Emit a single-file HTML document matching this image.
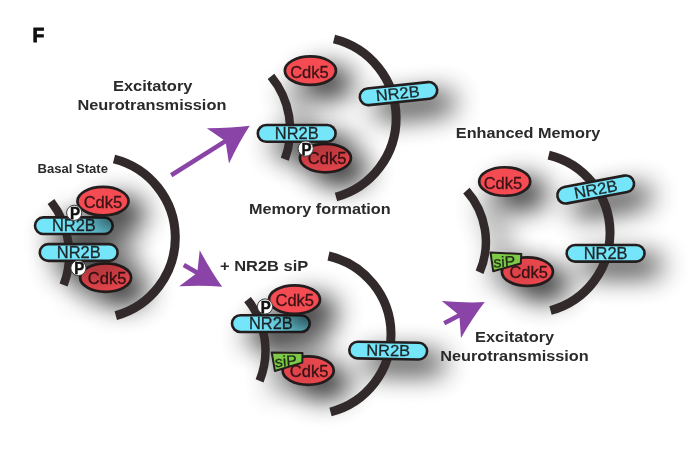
<!DOCTYPE html>
<html><head><meta charset="utf-8"><style>
html,body{margin:0;padding:0;background:#fff;}
body{width:700px;height:454px;overflow:hidden;}
svg{display:block;will-change:transform;}
text{font-family:"Liberation Sans",sans-serif;}
</style></head><body>
<svg width="700" height="454" viewBox="0 0 700 454" font-family="Liberation Sans, sans-serif">
<defs>
<filter id="so" filterUnits="userSpaceOnUse" x="-50" y="-50" width="800" height="560"><feGaussianBlur in="SourceAlpha" stdDeviation="14"/><feOffset dx="16" dy="12" result="b"/><feFlood flood-color="#000"/><feComposite in2="b" operator="in"/></filter>
<clipPath id="c_e_cdk_lo"><ellipse cx="527.4" cy="271.7" rx="25.55" ry="14.25" stroke-width="2.7" /></clipPath>
<clipPath id="c_m_cdk_lo"><ellipse cx="325.4" cy="158.1" rx="25.55" ry="14.25" stroke-width="2.7" /></clipPath>
<clipPath id="c_s_cdk_lo"><ellipse cx="308.2" cy="370.6" rx="25.55" ry="14.25" stroke-width="2.7" /></clipPath>
<clipPath id="c_s_nr_l"><rect transform="translate(270.9,323.6) rotate(0)" x="-38.90" y="-8.35" width="77.80" height="16.70" rx="8.35" stroke-width="2.6" /></clipPath>
<clipPath id="c_b_cdk_lo"><ellipse cx="105.6" cy="277.6" rx="25.55" ry="14.25" stroke-width="2.7" /></clipPath>
<clipPath id="c_b_nr_up"><rect transform="translate(73.9,225.7) rotate(0)" x="-38.90" y="-8.35" width="77.80" height="16.70" rx="8.35" stroke-width="2.6" /></clipPath>
</defs>
<rect width="700" height="454" fill="#fff"/>
<g filter="url(#so)" opacity="0.8"><path d="M51.00,201.50 A86.13,86.13 0 0 1 63.60,285.00" fill="none" stroke="#000" stroke-width="8.5"/></g>
<g filter="url(#so)" opacity="0.8"><path d="M271.00,76.40 A83.83,83.83 0 0 1 284.80,159.30" fill="none" stroke="#000" stroke-width="8.5"/></g>
<g filter="url(#so)" opacity="0.8"><path d="M247.50,299.60 A81.15,81.15 0 0 1 259.60,380.90" fill="none" stroke="#000" stroke-width="8.5"/></g>
<g filter="url(#so)" opacity="0.8"><path d="M466.40,190.60 A76.87,76.87 0 0 1 479.60,272.30" fill="none" stroke="#000" stroke-width="8.5"/></g>
<g filter="url(#so)" opacity="0.9"><ellipse cx="105.6" cy="277.6" rx="25.55" ry="14.25" stroke-width="2.7" fill="#000" stroke="#000"/></g>
<g filter="url(#so)" opacity="0.9"><rect transform="translate(73.9,225.7) rotate(0)" x="-38.90" y="-8.35" width="77.80" height="16.70" rx="8.35" stroke-width="2.6" fill="#000" stroke="#000"/></g>
<g filter="url(#so)" opacity="0.9"><ellipse cx="103.0" cy="201.2" rx="25.55" ry="14.25" stroke-width="2.7" fill="#000" stroke="#000"/></g>
<g filter="url(#so)" opacity="0.9"><rect transform="translate(78.7,252.5) rotate(0)" x="-38.90" y="-8.35" width="77.80" height="16.70" rx="8.35" stroke-width="2.6" fill="#000" stroke="#000"/></g>
<g filter="url(#so)" opacity="0.9"><circle cx="74.2" cy="212.8" r="7.60" stroke-width="1.0" fill="#000" stroke="#000"/></g>
<g filter="url(#so)" opacity="0.9"><circle cx="78.4" cy="268" r="7.60" stroke-width="1.0" fill="#000" stroke="#000"/></g>
<g filter="url(#so)" opacity="0.9"><ellipse cx="310.4" cy="70.7" rx="25.55" ry="14.25" stroke-width="2.7" fill="#000" stroke="#000"/></g>
<g filter="url(#so)" opacity="0.9"><ellipse cx="325.4" cy="158.1" rx="25.55" ry="14.25" stroke-width="2.7" fill="#000" stroke="#000"/></g>
<g filter="url(#so)" opacity="0.9"><rect transform="translate(296.7,133.4) rotate(0)" x="-38.90" y="-8.35" width="77.80" height="16.70" rx="8.35" stroke-width="2.6" fill="#000" stroke="#000"/></g>
<g filter="url(#so)" opacity="0.9"><rect transform="translate(398.5,93.6) rotate(-6)" x="-38.90" y="-8.35" width="77.80" height="16.70" rx="8.35" stroke-width="2.6" fill="#000" stroke="#000"/></g>
<g filter="url(#so)" opacity="0.9"><circle cx="305.7" cy="148.6" r="7.60" stroke-width="1.0" fill="#000" stroke="#000"/></g>
<g filter="url(#so)" opacity="0.9"><rect transform="translate(270.9,323.6) rotate(0)" x="-38.90" y="-8.35" width="77.80" height="16.70" rx="8.35" stroke-width="2.6" fill="#000" stroke="#000"/></g>
<g filter="url(#so)" opacity="0.9"><ellipse cx="294.5" cy="299.6" rx="25.55" ry="14.25" stroke-width="2.7" fill="#000" stroke="#000"/></g>
<g filter="url(#so)" opacity="0.9"><circle cx="265" cy="306.5" r="7.60" stroke-width="1.0" fill="#000" stroke="#000"/></g>
<g filter="url(#so)" opacity="0.9"><ellipse cx="308.2" cy="370.6" rx="25.55" ry="14.25" stroke-width="2.7" fill="#000" stroke="#000"/></g>
<g filter="url(#so)" opacity="0.9"><path transform="translate(271.7,352.4) rotate(0)" d="M0.0,0.0 L30.8,0.6 L30.6,10.2 L3.2,18.6 Z" stroke-width="2" stroke-linejoin="round" fill="#000" stroke="#000"/></g>
<g filter="url(#so)" opacity="0.9"><rect transform="translate(388.2,350.6) rotate(1)" x="-38.90" y="-8.35" width="77.80" height="16.70" rx="8.35" stroke-width="2.6" fill="#000" stroke="#000"/></g>
<g filter="url(#so)" opacity="0.9"><ellipse cx="504.7" cy="181.5" rx="25.55" ry="14.25" stroke-width="2.7" fill="#000" stroke="#000"/></g>
<g filter="url(#so)" opacity="0.9"><ellipse cx="527.4" cy="271.7" rx="25.55" ry="14.25" stroke-width="2.7" fill="#000" stroke="#000"/></g>
<g filter="url(#so)" opacity="0.9"><path transform="translate(490.5,252.5) rotate(1.5)" d="M0.0,0.0 L30.8,0.6 L30.6,10.2 L3.2,18.6 Z" stroke-width="2" stroke-linejoin="round" fill="#000" stroke="#000"/></g>
<g filter="url(#so)" opacity="0.9"><rect transform="translate(595.7,189.5) rotate(-10.7)" x="-38.90" y="-8.35" width="77.80" height="16.70" rx="8.35" stroke-width="2.6" fill="#000" stroke="#000"/></g>
<g filter="url(#so)" opacity="0.9"><rect transform="translate(605.6,253.3) rotate(0)" x="-38.90" y="-8.35" width="77.80" height="16.70" rx="8.35" stroke-width="2.6" fill="#000" stroke="#000"/></g>
<text x="32.4" y="41.9" font-size="21" font-weight="bold" fill="#111" stroke="#111" stroke-width="0.9" textLength="11.8" lengthAdjust="spacingAndGlyphs">F</text>
<text x="152.7" y="91" font-size="15.2" font-weight="bold" text-anchor="middle" fill="#2a2a2a" textLength="79.5" lengthAdjust="spacingAndGlyphs">Excitatory</text>
<text x="151.9" y="109.8" font-size="15.2" font-weight="bold" text-anchor="middle" fill="#2a2a2a" textLength="149" lengthAdjust="spacingAndGlyphs">Neurotransmission</text>
<text x="37.5" y="172.6" font-size="12" font-weight="bold" text-anchor="start" fill="#2a2a2a" textLength="70.5" lengthAdjust="spacingAndGlyphs">Basal State</text>
<text x="249" y="214.4" font-size="15.2" font-weight="bold" text-anchor="start" fill="#2a2a2a" textLength="141.7" lengthAdjust="spacingAndGlyphs">Memory formation</text>
<text x="220" y="271.4" font-size="15.2" font-weight="bold" text-anchor="start" fill="#2a2a2a" textLength="88.2" lengthAdjust="spacingAndGlyphs">+ NR2B siP</text>
<text x="455.8" y="137.6" font-size="15.2" font-weight="bold" text-anchor="start" fill="#2a2a2a" textLength="144.6" lengthAdjust="spacingAndGlyphs">Enhanced Memory</text>
<text x="514.6" y="342.1" font-size="15.2" font-weight="bold" text-anchor="middle" fill="#2a2a2a" textLength="79" lengthAdjust="spacingAndGlyphs">Excitatory</text>
<text x="514.5" y="360.9" font-size="15.2" font-weight="bold" text-anchor="middle" fill="#2a2a2a" textLength="148.6" lengthAdjust="spacingAndGlyphs">Neurotransmission</text>
<path transform="translate(171.2,175.3) rotate(-32.2)" d="M0,-2.3 L63.2,-2.3 L55.2,-20.8 Q75.9,-7.7 92.8,0 Q75.9,7.7 55.2,20.8 L63.2,2.3 L0,2.3 Z" fill="#8a44a8"/>
<path transform="translate(183.8,265) rotate(29.6)" d="M0,-2.3 L14.5,-2.3 L6.5,-20.8 Q27.2,-7.7 44.1,0 Q27.2,7.7 6.5,20.8 L14.5,2.3 L0,2.3 Z" fill="#8a44a8"/>
<path transform="translate(444.2,323.2) rotate(-27.5)" d="M0,-2.3 L16.1,-2.3 L8.1,-20.8 Q28.8,-7.7 45.7,0 Q28.8,7.7 8.1,20.8 L16.1,2.3 L0,2.3 Z" fill="#8a44a8"/>
<path d="M114.00,159.00 A80.96,80.96 0 0 1 115.80,315.60" fill="none" stroke="#322a2a" stroke-width="9"/>
<path d="M51.00,201.50 A86.13,86.13 0 0 1 63.60,285.00" fill="none" stroke="#322a2a" stroke-width="8.5"/>
<path d="M334.00,39.00 A81.62,81.62 0 0 1 336.00,197.00" fill="none" stroke="#322a2a" stroke-width="9"/>
<path d="M271.00,76.40 A83.83,83.83 0 0 1 284.80,159.30" fill="none" stroke="#322a2a" stroke-width="8.5"/>
<path d="M328.50,256.00 A80.22,80.22 0 0 1 330.50,412.00" fill="none" stroke="#322a2a" stroke-width="9"/>
<path d="M247.50,299.60 A81.15,81.15 0 0 1 259.60,380.90" fill="none" stroke="#322a2a" stroke-width="8.5"/>
<path d="M548.70,155.20 A80.11,80.11 0 0 1 550.50,310.50" fill="none" stroke="#322a2a" stroke-width="9"/>
<path d="M466.40,190.60 A76.87,76.87 0 0 1 479.60,272.30" fill="none" stroke="#322a2a" stroke-width="8.5"/>
<ellipse cx="105.6" cy="277.6" rx="25.55" ry="14.25" stroke-width="2.7" fill="#f54b52" stroke="#241d1e"/><text x="107.10" y="283.70" font-size="15.8" text-anchor="middle" fill="#3b1416" stroke="#3b1416" stroke-width="0.3" textLength="38.5" lengthAdjust="spacingAndGlyphs">Cdk5</text>
<g clip-path="url(#c_b_cdk_lo)"><g filter="url(#so)" opacity="0.45"><rect transform="translate(78.7,252.5) rotate(0)" x="-38.90" y="-8.35" width="77.80" height="16.70" rx="8.35" stroke-width="2.6" fill="#000" stroke="#000"/></g></g>
<g clip-path="url(#c_b_cdk_lo)"><g filter="url(#so)" opacity="0.3"><circle cx="78.4" cy="268" r="7.60" stroke-width="1.0" fill="#000" stroke="#000"/></g></g>
<rect transform="translate(73.9,225.7) rotate(0)" x="-38.90" y="-8.35" width="77.80" height="16.70" rx="8.35" stroke-width="2.6" fill="#75e6fa" stroke="#241d1e"/><text transform="translate(73.9,225.7) rotate(0)" x="0" y="5.3" font-size="16" text-anchor="middle" fill="#1e2628" stroke="#1e2628" stroke-width="0.3" textLength="43.8" lengthAdjust="spacingAndGlyphs">NR2B</text>
<g clip-path="url(#c_b_nr_up)"><g filter="url(#so)" opacity="0.95"><ellipse cx="103.0" cy="201.2" rx="25.55" ry="14.25" stroke-width="2.7" fill="#000" stroke="#000"/></g></g>
<g clip-path="url(#c_b_nr_up)"><g filter="url(#so)" opacity="0.4"><circle cx="74.2" cy="212.8" r="7.60" stroke-width="1.0" fill="#000" stroke="#000"/></g></g>
<ellipse cx="103.0" cy="201.2" rx="25.55" ry="14.25" stroke-width="2.7" fill="#f54b52" stroke="#241d1e"/><text x="102.90" y="207.80" font-size="15.8" text-anchor="middle" fill="#3b1416" stroke="#3b1416" stroke-width="0.3" textLength="38.5" lengthAdjust="spacingAndGlyphs">Cdk5</text>
<rect transform="translate(78.7,252.5) rotate(0)" x="-38.90" y="-8.35" width="77.80" height="16.70" rx="8.35" stroke-width="2.6" fill="#75e6fa" stroke="#241d1e"/><text transform="translate(78.7,252.5) rotate(0)" x="0" y="5.3" font-size="16" text-anchor="middle" fill="#1e2628" stroke="#1e2628" stroke-width="0.3" textLength="43.8" lengthAdjust="spacingAndGlyphs">NR2B</text>
<circle cx="74.2" cy="212.8" r="7.60" stroke-width="1.0" fill="#fff" stroke="#3a3a3a"/><text x="75.00" y="218.90" font-size="16" font-weight="bold" text-anchor="middle" fill="#111" stroke="#111" stroke-width="0.5" textLength="10" lengthAdjust="spacingAndGlyphs">P</text>
<circle cx="78.4" cy="268" r="7.60" stroke-width="1.0" fill="#fff" stroke="#3a3a3a"/><text x="79.20" y="274.10" font-size="16" font-weight="bold" text-anchor="middle" fill="#111" stroke="#111" stroke-width="0.5" textLength="10" lengthAdjust="spacingAndGlyphs">P</text>
<ellipse cx="310.4" cy="70.7" rx="25.55" ry="14.25" stroke-width="2.7" fill="#f54b52" stroke="#241d1e"/><text x="309.40" y="77.70" font-size="15.8" text-anchor="middle" fill="#3b1416" stroke="#3b1416" stroke-width="0.3" textLength="38.5" lengthAdjust="spacingAndGlyphs">Cdk5</text>
<ellipse cx="325.4" cy="158.1" rx="25.55" ry="14.25" stroke-width="2.7" fill="#f54b52" stroke="#241d1e"/><text x="327.10" y="163.70" font-size="15.8" text-anchor="middle" fill="#3b1416" stroke="#3b1416" stroke-width="0.3" textLength="38.5" lengthAdjust="spacingAndGlyphs">Cdk5</text>
<g clip-path="url(#c_m_cdk_lo)"><g filter="url(#so)" opacity="0.45"><rect transform="translate(296.7,133.4) rotate(0)" x="-38.90" y="-8.35" width="77.80" height="16.70" rx="8.35" stroke-width="2.6" fill="#000" stroke="#000"/></g></g>
<g clip-path="url(#c_m_cdk_lo)"><g filter="url(#so)" opacity="0.3"><circle cx="305.7" cy="148.6" r="7.60" stroke-width="1.0" fill="#000" stroke="#000"/></g></g>
<rect transform="translate(296.7,133.4) rotate(0)" x="-38.90" y="-8.35" width="77.80" height="16.70" rx="8.35" stroke-width="2.6" fill="#75e6fa" stroke="#241d1e"/><text transform="translate(296.7,133.4) rotate(0)" x="0" y="5.3" font-size="16" text-anchor="middle" fill="#1e2628" stroke="#1e2628" stroke-width="0.3" textLength="43.8" lengthAdjust="spacingAndGlyphs">NR2B</text>
<rect transform="translate(398.5,93.6) rotate(-6)" x="-38.90" y="-8.35" width="77.80" height="16.70" rx="8.35" stroke-width="2.6" fill="#75e6fa" stroke="#241d1e"/><text transform="translate(398.5,93.6) rotate(-6)" x="-0.8" y="5.3" font-size="16" text-anchor="middle" fill="#1e2628" stroke="#1e2628" stroke-width="0.3" textLength="43.8" lengthAdjust="spacingAndGlyphs">NR2B</text>
<circle cx="305.7" cy="148.6" r="7.60" stroke-width="1.0" fill="#fff" stroke="#3a3a3a"/><text x="306.50" y="154.70" font-size="16" font-weight="bold" text-anchor="middle" fill="#111" stroke="#111" stroke-width="0.5" textLength="10" lengthAdjust="spacingAndGlyphs">P</text>
<rect transform="translate(270.9,323.6) rotate(0)" x="-38.90" y="-8.35" width="77.80" height="16.70" rx="8.35" stroke-width="2.6" fill="#75e6fa" stroke="#241d1e"/><text transform="translate(270.9,323.6) rotate(0)" x="0" y="5.3" font-size="16" text-anchor="middle" fill="#1e2628" stroke="#1e2628" stroke-width="0.3" textLength="43.8" lengthAdjust="spacingAndGlyphs">NR2B</text>
<g clip-path="url(#c_s_nr_l)"><g filter="url(#so)" opacity="1.0"><ellipse cx="294.5" cy="299.6" rx="25.55" ry="14.25" stroke-width="2.7" fill="#000" stroke="#000"/></g></g>
<g clip-path="url(#c_s_nr_l)"><g filter="url(#so)" opacity="0.3"><circle cx="265" cy="306.5" r="7.60" stroke-width="1.0" fill="#000" stroke="#000"/></g></g>
<ellipse cx="294.5" cy="299.6" rx="25.55" ry="14.25" stroke-width="2.7" fill="#f54b52" stroke="#241d1e"/><text x="294.75" y="306.20" font-size="15.8" text-anchor="middle" fill="#3b1416" stroke="#3b1416" stroke-width="0.3" textLength="38.5" lengthAdjust="spacingAndGlyphs">Cdk5</text>
<circle cx="265" cy="306.5" r="7.60" stroke-width="1.0" fill="#fff" stroke="#3a3a3a"/><text x="265.80" y="312.60" font-size="16" font-weight="bold" text-anchor="middle" fill="#111" stroke="#111" stroke-width="0.5" textLength="10" lengthAdjust="spacingAndGlyphs">P</text>
<ellipse cx="308.2" cy="370.6" rx="25.55" ry="14.25" stroke-width="2.7" fill="#f54b52" stroke="#241d1e"/><text x="309.10" y="377.30" font-size="15.8" text-anchor="middle" fill="#3b1416" stroke="#3b1416" stroke-width="0.3" textLength="38.5" lengthAdjust="spacingAndGlyphs">Cdk5</text>
<g clip-path="url(#c_s_cdk_lo)"><g filter="url(#so)" opacity="0.3"><path transform="translate(271.7,352.4) rotate(0)" d="M0.0,0.0 L30.8,0.6 L30.6,10.2 L3.2,18.6 Z" stroke-width="2" stroke-linejoin="round" fill="#000" stroke="#000"/></g></g>
<path transform="translate(271.7,352.4) rotate(0)" d="M0.0,0.0 L30.8,0.6 L30.6,10.2 L3.2,18.6 Z" stroke-width="2" stroke-linejoin="round" fill="#7cc847" stroke="#241d1e"/><g transform="translate(271.7,352.4) rotate(0)"><text x="3.6" y="14.8" font-size="15" fill="#1d2a12" stroke="#1d2a12" stroke-width="0.25" textLength="22" lengthAdjust="spacingAndGlyphs" transform="rotate(-5 3.6 14.8)">siP</text></g>
<rect transform="translate(388.2,350.6) rotate(1)" x="-38.90" y="-8.35" width="77.80" height="16.70" rx="8.35" stroke-width="2.6" fill="#75e6fa" stroke="#241d1e"/><text transform="translate(388.2,350.6) rotate(1)" x="0" y="5.3" font-size="16" text-anchor="middle" fill="#1e2628" stroke="#1e2628" stroke-width="0.3" textLength="43.8" lengthAdjust="spacingAndGlyphs">NR2B</text>
<ellipse cx="504.7" cy="181.5" rx="25.55" ry="14.25" stroke-width="2.7" fill="#f54b52" stroke="#241d1e"/><text x="502.90" y="188.90" font-size="15.8" text-anchor="middle" fill="#3b1416" stroke="#3b1416" stroke-width="0.3" textLength="38.5" lengthAdjust="spacingAndGlyphs">Cdk5</text>
<ellipse cx="527.4" cy="271.7" rx="25.55" ry="14.25" stroke-width="2.7" fill="#f54b52" stroke="#241d1e"/><text x="528.70" y="277.70" font-size="15.8" text-anchor="middle" fill="#3b1416" stroke="#3b1416" stroke-width="0.3" textLength="38.5" lengthAdjust="spacingAndGlyphs">Cdk5</text>
<g clip-path="url(#c_e_cdk_lo)"><g filter="url(#so)" opacity="0.3"><path transform="translate(490.5,252.5) rotate(1.5)" d="M0.0,0.0 L30.8,0.6 L30.6,10.2 L3.2,18.6 Z" stroke-width="2" stroke-linejoin="round" fill="#000" stroke="#000"/></g></g>
<path transform="translate(490.5,252.5) rotate(1.5)" d="M0.0,0.0 L30.8,0.6 L30.6,10.2 L3.2,18.6 Z" stroke-width="2" stroke-linejoin="round" fill="#7cc847" stroke="#241d1e"/><g transform="translate(490.5,252.5) rotate(1.5)"><text x="3.6" y="14.8" font-size="15" fill="#1d2a12" stroke="#1d2a12" stroke-width="0.25" textLength="22" lengthAdjust="spacingAndGlyphs" transform="rotate(-5 3.6 14.8)">siP</text></g>
<rect transform="translate(595.7,189.5) rotate(-10.7)" x="-38.90" y="-8.35" width="77.80" height="16.70" rx="8.35" stroke-width="2.6" fill="#75e6fa" stroke="#241d1e"/><text transform="translate(595.7,189.5) rotate(-10.7)" x="0" y="5.3" font-size="16" text-anchor="middle" fill="#1e2628" stroke="#1e2628" stroke-width="0.3" textLength="43.8" lengthAdjust="spacingAndGlyphs">NR2B</text>
<rect transform="translate(605.6,253.3) rotate(0)" x="-38.90" y="-8.35" width="77.80" height="16.70" rx="8.35" stroke-width="2.6" fill="#75e6fa" stroke="#241d1e"/><text transform="translate(605.6,253.3) rotate(0)" x="0" y="5.3" font-size="16" text-anchor="middle" fill="#1e2628" stroke="#1e2628" stroke-width="0.3" textLength="43.8" lengthAdjust="spacingAndGlyphs">NR2B</text>
</svg>
</body></html>
